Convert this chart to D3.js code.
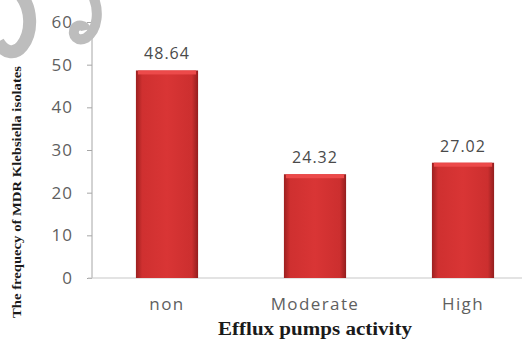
<!DOCTYPE html>
<html>
<head>
<meta charset="utf-8">
<script src="https://cdn.jsdelivr.net/npm/d3@7"></script>
<style>
  body { margin: 0; background: #fff; }
  .tick text { font-family: "Open Sans", sans-serif; font-size: 17px; fill: #5f5f5f; letter-spacing: 1px; }
  .val { font-family: "Open Sans", sans-serif; font-size: 16px; fill: #4a4a4a; letter-spacing: 1px; }
  .cat { font-family: "Open Sans", sans-serif; font-size: 17px; fill: #5f5f5f; letter-spacing: 1.4px; }
  .axis-title { font-family: "Liberation Serif", serif; font-weight: bold; fill: #1a1a1a; }
</style>
</head>
<body>
<svg width="522" height="342"></svg>
<script>
const categories = ['non', 'Moderate', 'High'];
const values = [48.64, 24.32, 27.02];
const yTicks = [0, 10, 20, 30, 40, 50, 60];
const xTitle = 'Efflux pumps activity';
const yTitle = 'The frequecy of MDR Klebsiella isolates';

const svg = d3.select('svg');

// gradient for the beveled bars
const defs = svg.append('defs');
const grad = defs.append('linearGradient').attr('id', 'barGrad')
    .attr('x1', 0).attr('x2', 1).attr('y1', 0).attr('y2', 0);
grad.append('stop').attr('offset', '0%').attr('stop-color', '#9c2020');
grad.append('stop').attr('offset', '10%').attr('stop-color', '#cf3030');
grad.append('stop').attr('offset', '50%').attr('stop-color', '#d93535');
grad.append('stop').attr('offset', '90%').attr('stop-color', '#cc2f2f');
grad.append('stop').attr('offset', '100%').attr('stop-color', '#931e1e');

const xScale = d3.scaleBand()
    .domain(categories)
    .range([93, 537])
    .paddingInner(0.58)
    .paddingOuter(0.29);

const yScale = d3.scaleLinear()
    .domain([0, 60])
    .range([278, 22]);

// y axis
const yAxisG = svg.append('g')
    .attr('transform', 'translate(92,0)')
    .call(d3.axisLeft(yScale).tickValues(yTicks).tickSize(5).tickPadding(14));
yAxisG.selectAll('line').attr('stroke', '#a6a6a6');
yAxisG.select('.domain').attr('stroke', '#a6a6a6').attr('d', `M0,${yScale(60)}V${yScale(0)}`);

// x axis baseline
svg.append('line')
    .attr('x1', 88).attr('x2', 522)
    .attr('y1', yScale(0)).attr('y2', yScale(0))
    .attr('stroke', '#c8c8c8').attr('stroke-width', 1.2);

// bars
const bars = svg.append('g').selectAll('g')
    .data(categories.map((c, i) => ({ c, v: values[i] })))
    .join('g');

bars.append('rect')
    .attr('x', d => xScale(d.c))
    .attr('y', d => yScale(d.v))
    .attr('width', xScale.bandwidth())
    .attr('height', d => yScale(0) - yScale(d.v))
    .attr('fill', 'url(#barGrad)');

// top bevel
bars.append('rect')
    .attr('x', d => xScale(d.c) + 2)
    .attr('y', d => yScale(d.v))
    .attr('width', xScale.bandwidth() - 4)
    .attr('height', 4)
    .attr('fill', '#ec4a4a');

bars.append('text')
    .attr('class', 'val')
    .attr('x', d => xScale(d.c) + xScale.bandwidth() / 2)
    .attr('y', d => yScale(d.v) - 11)
    .attr('text-anchor', 'middle')
    .text(d => d.v.toFixed(2));

// category labels
svg.append('g').selectAll('text')
    .data(categories)
    .join('text')
    .attr('class', 'cat')
    .attr('x', d => xScale(d) + xScale.bandwidth() / 2)
    .attr('y', 310)
    .attr('text-anchor', 'middle')
    .text(d => d);

// axis titles
svg.append('text')
    .attr('class', 'axis-title')
    .attr('x', 315)
    .attr('y', 335)
    .attr('text-anchor', 'middle')
    .attr('textLength', 194)
    .attr('lengthAdjust', 'spacingAndGlyphs')
    .style('font-size', '18px')
    .text(xTitle);

svg.append('text')
    .attr('class', 'axis-title')
    .attr('transform', 'translate(21,192) rotate(-90)')
    .attr('text-anchor', 'middle')
    .attr('textLength', 252)
    .attr('lengthAdjust', 'spacingAndGlyphs')
    .style('font-size', '13px')
    .text(yTitle);

// watermark swirl
const wm = svg.append('g').attr('fill', 'none').attr('stroke', '#bdbdbd');
wm.append('path')
    .attr('d', 'M20,-6 C32,8 33,32 22,46 C14,56 4,52 -2,42')
    .attr('stroke-width', 13);
wm.append('path')
    .attr('d', 'M92,-6 C100,10 98,30 86,38 C78,42 71,36 75,28 C78,24 85,25 86,30')
    .attr('stroke-width', 10);
</script>
</body>
</html>
